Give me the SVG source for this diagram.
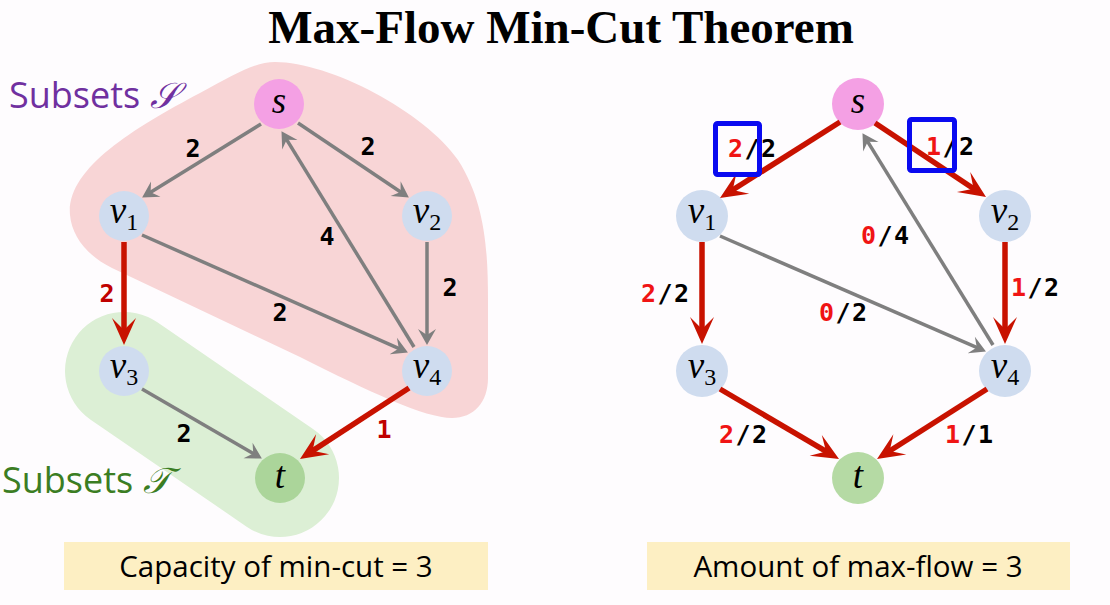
<svg xmlns="http://www.w3.org/2000/svg" width="1110" height="605" viewBox="0 0 1110 605">
<style>
.gray{stroke:#7f7f7f;stroke-width:3.5;fill:none}
.red{stroke:#c81200;stroke-width:5.5;fill:none}
.lab{font-family:"DejaVu Sans Mono","Liberation Mono",monospace;font-weight:bold;font-size:25px;fill:#000}
.lm{letter-spacing:1.5px}
.r1{fill:#c00000}
.r2{fill:#f01414}
.nb{fill:#cfdcef}
.ns{fill:#f4a0e4}
.nt{fill:#b5daa4}
.math{font-family:"Liberation Serif","DejaVu Serif",serif;font-style:italic;font-size:37px;fill:#000}
.sub{font-style:normal;font-size:24px}
.set{font-family:"Open Sans","Noto Sans",sans-serif;font-size:36px}
.cap{font-family:"Open Sans","Noto Sans",sans-serif;font-size:29.5px;fill:#000}
.box{fill:#fdefc3}
.hl{fill:none;stroke:#0a0af0;stroke-width:5}
</style>
<defs>
<marker id="ag" markerUnits="userSpaceOnUse" viewBox="-9 -11 20 22" markerWidth="20" markerHeight="22" refX="0" refY="0" orient="auto"><path d="M9,0 L-7,-9 L-1,0 L-7,9 Z" fill="#7f7f7f"/></marker>
<marker id="ar" markerUnits="userSpaceOnUse" viewBox="-15 -13 30 26" markerWidth="30" markerHeight="26" refX="0" refY="0" orient="auto"><path d="M13,0 L-14,-12 L-2,0 L-14,12 Z" fill="#c81200"/></marker>
</defs>
<rect x="0" y="0" width="1110" height="605" fill="#fefcfe"/>
<text x="561" y="43" text-anchor="middle" font-family="Liberation Serif,DejaVu Serif,serif" font-weight="bold" font-size="47">Max-Flow Min-Cut Theorem</text>

<g id="subset-S">
<path d="M70,215 C66,170 130,130 200,93 C235,74 255,62 275,62 C330,62 425,112 458,160 C485,202 488,250 488,300 L488,378 C488,402 474,418 452,418 C425,418 370,392 300,357 L112,268 C86,255 72,236 70,215 Z" fill="#f8d5d6"/>
<text x="9" y="108" class="set" fill="#7030a0">Subsets <tspan font-family="DejaVu Serif,Liberation Serif,serif" font-style="italic">𝒮</tspan></text>
</g>
<g id="subset-T">
<line x1="124" y1="371" x2="280" y2="478" stroke="#dcefd5" stroke-width="118" stroke-linecap="round"/>
<text x="2" y="493" class="set" fill="#3b7d23">Subsets <tspan font-family="DejaVu Serif,Liberation Serif,serif" font-style="italic">𝒯</tspan></text>
</g>

<g id="L-s"><circle cx="279" cy="104" r="25" class="ns"/><text x="279" y="113" text-anchor="middle" class="math">s</text></g>
<g id="L-v1"><circle cx="124" cy="216" r="25" class="nb"/><text x="124" y="223" text-anchor="middle" class="math">v<tspan class="sub" dy="7">1</tspan></text></g>
<g id="L-v2"><circle cx="427" cy="216" r="25" class="nb"/><text x="427" y="223" text-anchor="middle" class="math">v<tspan class="sub" dy="7">2</tspan></text></g>
<g id="L-v3"><circle cx="124" cy="371" r="25" class="nb"/><text x="124" y="378" text-anchor="middle" class="math">v<tspan class="sub" dy="7">3</tspan></text></g>
<g id="L-v4"><circle cx="427" cy="371" r="25" class="nb"/><text x="427" y="378" text-anchor="middle" class="math">v<tspan class="sub" dy="7">4</tspan></text></g>
<g id="L-t"><circle cx="280" cy="478" r="25" fill="#abd59a"/><text x="280" y="488" text-anchor="middle" class="math">t</text></g>

<g id="R-s"><circle cx="858" cy="104" r="26" class="ns"/><text x="858" y="113" text-anchor="middle" class="math">s</text></g>
<g id="R-v1"><circle cx="702" cy="216" r="26" class="nb"/><text x="702" y="223" text-anchor="middle" class="math">v<tspan class="sub" dy="7">1</tspan></text></g>
<g id="R-v2"><circle cx="1005" cy="216" r="26" class="nb"/><text x="1005" y="223" text-anchor="middle" class="math">v<tspan class="sub" dy="7">2</tspan></text></g>
<g id="R-v3"><circle cx="702" cy="371" r="26" class="nb"/><text x="702" y="378" text-anchor="middle" class="math">v<tspan class="sub" dy="7">3</tspan></text></g>
<g id="R-v4"><circle cx="1005" cy="371" r="26" class="nb"/><text x="1005" y="378" text-anchor="middle" class="math">v<tspan class="sub" dy="7">4</tspan></text></g>
<g id="R-t"><circle cx="858" cy="478" r="26" class="nt"/><text x="858" y="488" text-anchor="middle" class="math">t</text></g>

<g id="connectors">
<line x1="261" y1="124" x2="149.8" y2="192.8" class="gray" marker-end="url(#ag)"/>
<line x1="298" y1="123" x2="401.4" y2="192.5" class="gray" marker-end="url(#ag)"/>
<line x1="414" y1="347" x2="286.2" y2="138.8" class="gray" marker-end="url(#ag)"/>
<line x1="142" y1="235" x2="399.7" y2="348.8" class="gray" marker-end="url(#ag)"/>
<line x1="427" y1="242" x2="427" y2="336" class="gray" marker-end="url(#ag)"/>
<line x1="124" y1="242" x2="124" y2="332" class="red" marker-end="url(#ar)"/>
<line x1="142" y1="389" x2="254.1" y2="454" class="gray" marker-end="url(#ag)"/>
<line x1="409" y1="388" x2="310.9" y2="451.9" class="red" marker-end="url(#ar)"/>

<line x1="840" y1="122" x2="731" y2="191" class="red" marker-end="url(#ar)"/>
<line x1="875" y1="123" x2="975.2" y2="189.8" class="red" marker-end="url(#ar)"/>
<line x1="993" y1="345" x2="867.2" y2="140.8" class="gray" marker-end="url(#ag)"/>
<line x1="720" y1="236" x2="977.7" y2="347.8" class="gray" marker-end="url(#ag)"/>
<line x1="1005" y1="242" x2="1005" y2="331" class="red" marker-end="url(#ar)"/>
<line x1="702" y1="242" x2="702" y2="331" class="red" marker-end="url(#ar)"/>
<line x1="720" y1="389" x2="827.8" y2="452.4" class="red" marker-end="url(#ar)"/>
<line x1="987" y1="389" x2="888" y2="452" class="red" marker-end="url(#ar)"/>
</g>

<g id="labels-left" class="lab" text-anchor="middle">
<text x="193" y="157" class="lab">2</text>
<text x="368" y="155" class="lab">2</text>
<text x="327" y="245" class="lab">4</text>
<text x="450" y="296" class="lab">2</text>
<text x="280" y="321" class="lab">2</text>
<text x="107" y="302" class="lab r1">2</text>
<text x="184" y="442" class="lab">2</text>
<text x="384" y="438" class="lab r1">1</text>
</g>

<g id="labels-right">
<text x="728" y="157" class="lab lm"><tspan class="r2">2</tspan>/2</text>
<text x="926" y="155" class="lab lm"><tspan class="r2">1</tspan>/2</text>
<text x="861" y="244" class="lab lm"><tspan class="r2">0</tspan>/4</text>
<text x="819" y="321" class="lab lm"><tspan class="r2">0</tspan>/2</text>
<text x="1011" y="296" class="lab lm"><tspan class="r2">1</tspan>/2</text>
<text x="641" y="302" class="lab lm"><tspan class="r2">2</tspan>/2</text>
<text x="719" y="443" class="lab lm"><tspan class="r2">2</tspan>/2</text>
<text x="945" y="443" class="lab lm"><tspan class="r2">1</tspan>/1</text>
</g>

<g id="highlights">
<rect x="715.5" y="123.5" width="44" height="51" rx="2" class="hl"/>
<rect x="909.5" y="119.5" width="45" height="51" rx="2" class="hl"/>
</g>

<g id="caption-left">
<rect x="64" y="542" width="424" height="48" class="box"/>
<text x="276" y="577" text-anchor="middle" class="cap">Capacity of min-cut = 3</text>
</g>
<g id="caption-right">
<rect x="647" y="542" width="423" height="48" class="box"/>
<text x="858" y="577" text-anchor="middle" class="cap">Amount of max-flow = 3</text>
</g>
</svg>
